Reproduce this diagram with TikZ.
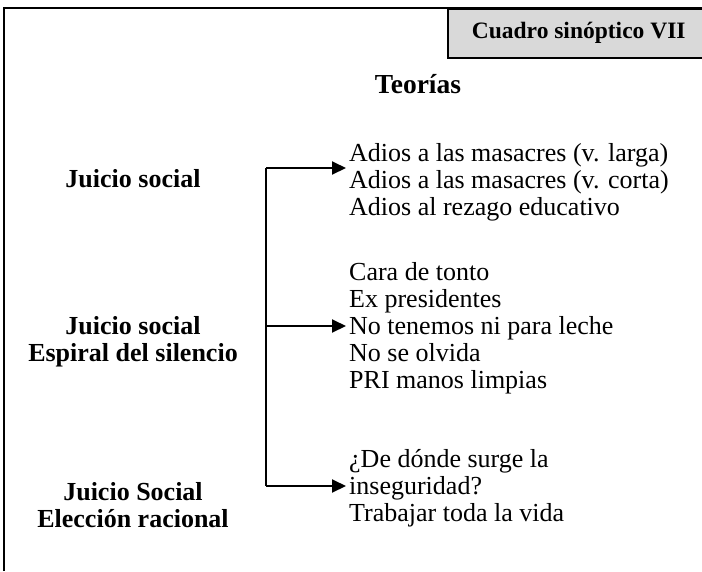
\documentclass[tikz,border=0pt]{standalone}
\usepackage{fontspec}
\setmainfont{Liberation Serif}
\usetikzlibrary{arrows.meta}
\definecolor{boxgray}{HTML}{D9D9D9}
\begin{document}
\begin{tikzpicture}[x=1pt,y=-1pt,
  txt/.style={anchor=base west,inner sep=0pt,font=\fontsize{26}{27}\selectfont},
  lbl/.style={anchor=base,inner sep=0pt,font=\fontsize{26}{27}\selectfont\bfseries},
  conn/.style={line width=2pt},
  arr/.style={conn,-{Triangle[length=14pt,width=13pt]}}]
\useasboundingbox (0,0) rectangle (702,571);
\draw[line width=1.5pt] (4,571) -- (4,8) -- (702,8);
\node (cuadro) [draw,line width=1.5pt,fill=boxgray,anchor=north west,
  minimum width=262pt,minimum height=49pt,inner sep=0pt,
  font=\fontsize{23.5}{27}\selectfont\bfseries] at (447,8) {Cuadro sinóptico VII};
\node (teorias) [anchor=base,inner sep=0pt,font=\fontsize{27.5}{30}\selectfont\bfseries] at (418,93) {Teorías};
% group 1
\node (g1a) [txt] at (349,161) {Adios a las masacres (v. larga)};
\node (g1b) [txt] at (349,188) {Adios a las masacres (v. corta)};
\node (g1c) [txt] at (349,215) {Adios al rezago educativo};
% group 2
\node (g2a) [txt] at (349,280) {Cara de tonto};
\node (g2b) [txt] at (349,307) {Ex presidentes};
\node (g2c) [txt] at (349,334) {No tenemos ni para leche};
\node (g2d) [txt] at (349,361) {No se olvida};
\node (g2e) [txt] at (349,388) {PRI manos limpias};
% group 3
\node (g3a) [txt] at (349,467) {¿De dónde surge la};
\node (g3b) [txt] at (349,494) {inseguridad?};
\node (g3c) [txt] at (349,521) {Trabajar toda la vida};
% labels
\node (l1) [lbl] at (133,187) {Juicio social};
\node (l2a) [lbl] at (133,334) {Juicio social};
\node (l2b) [lbl] at (133,361) {Espiral del silencio};
\node (l3a) [lbl] at (133,500) {Juicio Social};
\node (l3b) [lbl] at (133,527) {Elección racional};
% connectors
\coordinate (top) at (266,168);
\coordinate (mid) at (266,326);
\coordinate (bot) at (266,486);
\draw[conn] (top) -- (bot);
\draw[arr] (top) -- ([xshift=-3pt]g1a.west |- top);
\draw[arr] (mid) -- ([xshift=-3pt]g2c.west |- mid);
\draw[arr] (bot) -- ([xshift=-3pt]g3b.west |- bot);
\end{tikzpicture}
\end{document}
